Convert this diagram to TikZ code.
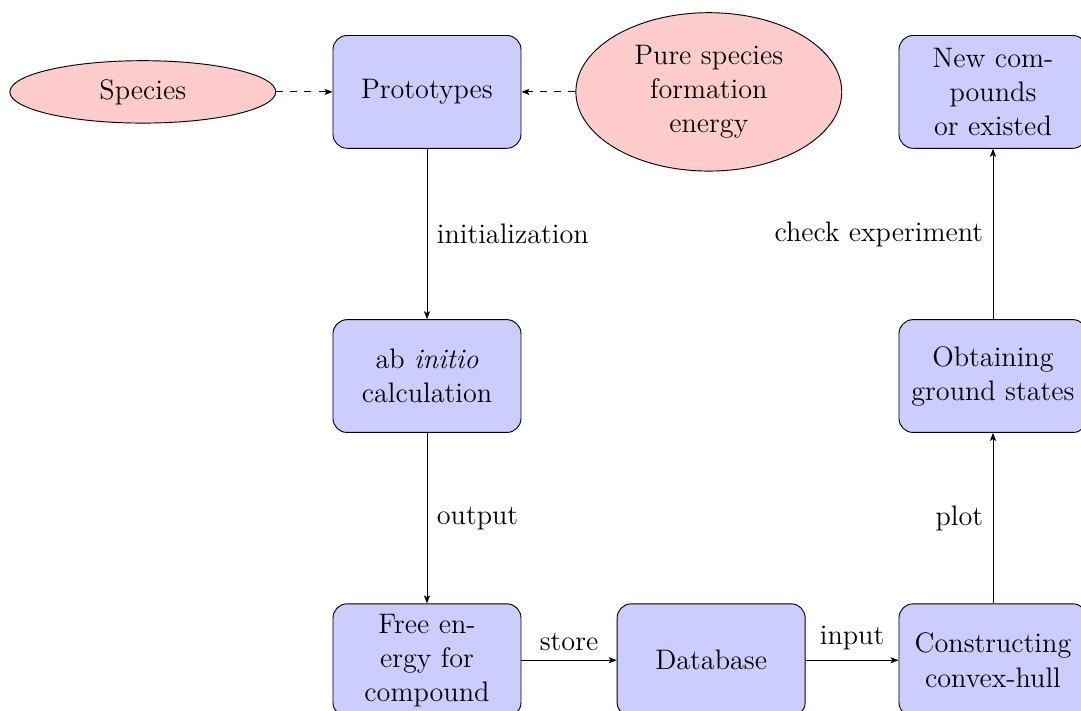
\documentclass[tikz,border=0pt,12pt]{standalone}
\usetikzlibrary{arrows.meta,positioning,shapes.geometric}

\begin{document}
\begin{tikzpicture}[
  node distance=4.25cm, on grid,
  block/.style={draw,fill=blue!20,rounded corners=6pt,text width=6em,align=center,minimum height=4em},
  cloud/.style={draw,ellipse,fill=red!20,text width=6em,align=center,minimum height=2em},
  arr/.style={-{Stealth[length=3.4pt,width=2.6pt,inset=0.8pt]}},
  darr/.style={arr,dashed},
  lbl/.style={font=\normalsize},
]
\useasboundingbox (-181.7pt,-263.4pt) rectangle (278.3pt,39.1pt);
% top row
\node[block] (proto) {Prototypes};
\node[cloud,left=of proto] (species) {Species};
\node[cloud,right=of proto,xshift=-1pt] (pure) {Pure species formation energy};
% left column, then the bottom row
\node[block,below=of proto] (abinit) {ab \emph{initio} calculation};
\node[block,below=of abinit] (free) {Free en-\\ergy for\\compound};
\node[block,right=of free] (db) {Database};
\node[block,right=of db,xshift=-1pt] (hull) {Constructing convex-hull};
% right column
\node[block,above=of hull] (ground) {Obtaining ground states};
\node[block,above=of ground] (newc) {New com-\\pounds\\or existed};
% arrows
\draw[darr] (species)--(proto);
\draw[darr] (pure)--(proto);
\draw[arr] (proto)--node[right,lbl]{initialization}(abinit);
\draw[arr] (abinit)--node[right,lbl]{output}(free);
\draw[arr] (free)--node[above,lbl]{store}(db);
\draw[arr] (db)--node[above,lbl]{input}(hull);
\draw[arr] (hull)--node[left,lbl]{plot}(ground);
\draw[arr] (ground)--node[left,lbl]{check experiment}(newc);
\end{tikzpicture}
\end{document}
